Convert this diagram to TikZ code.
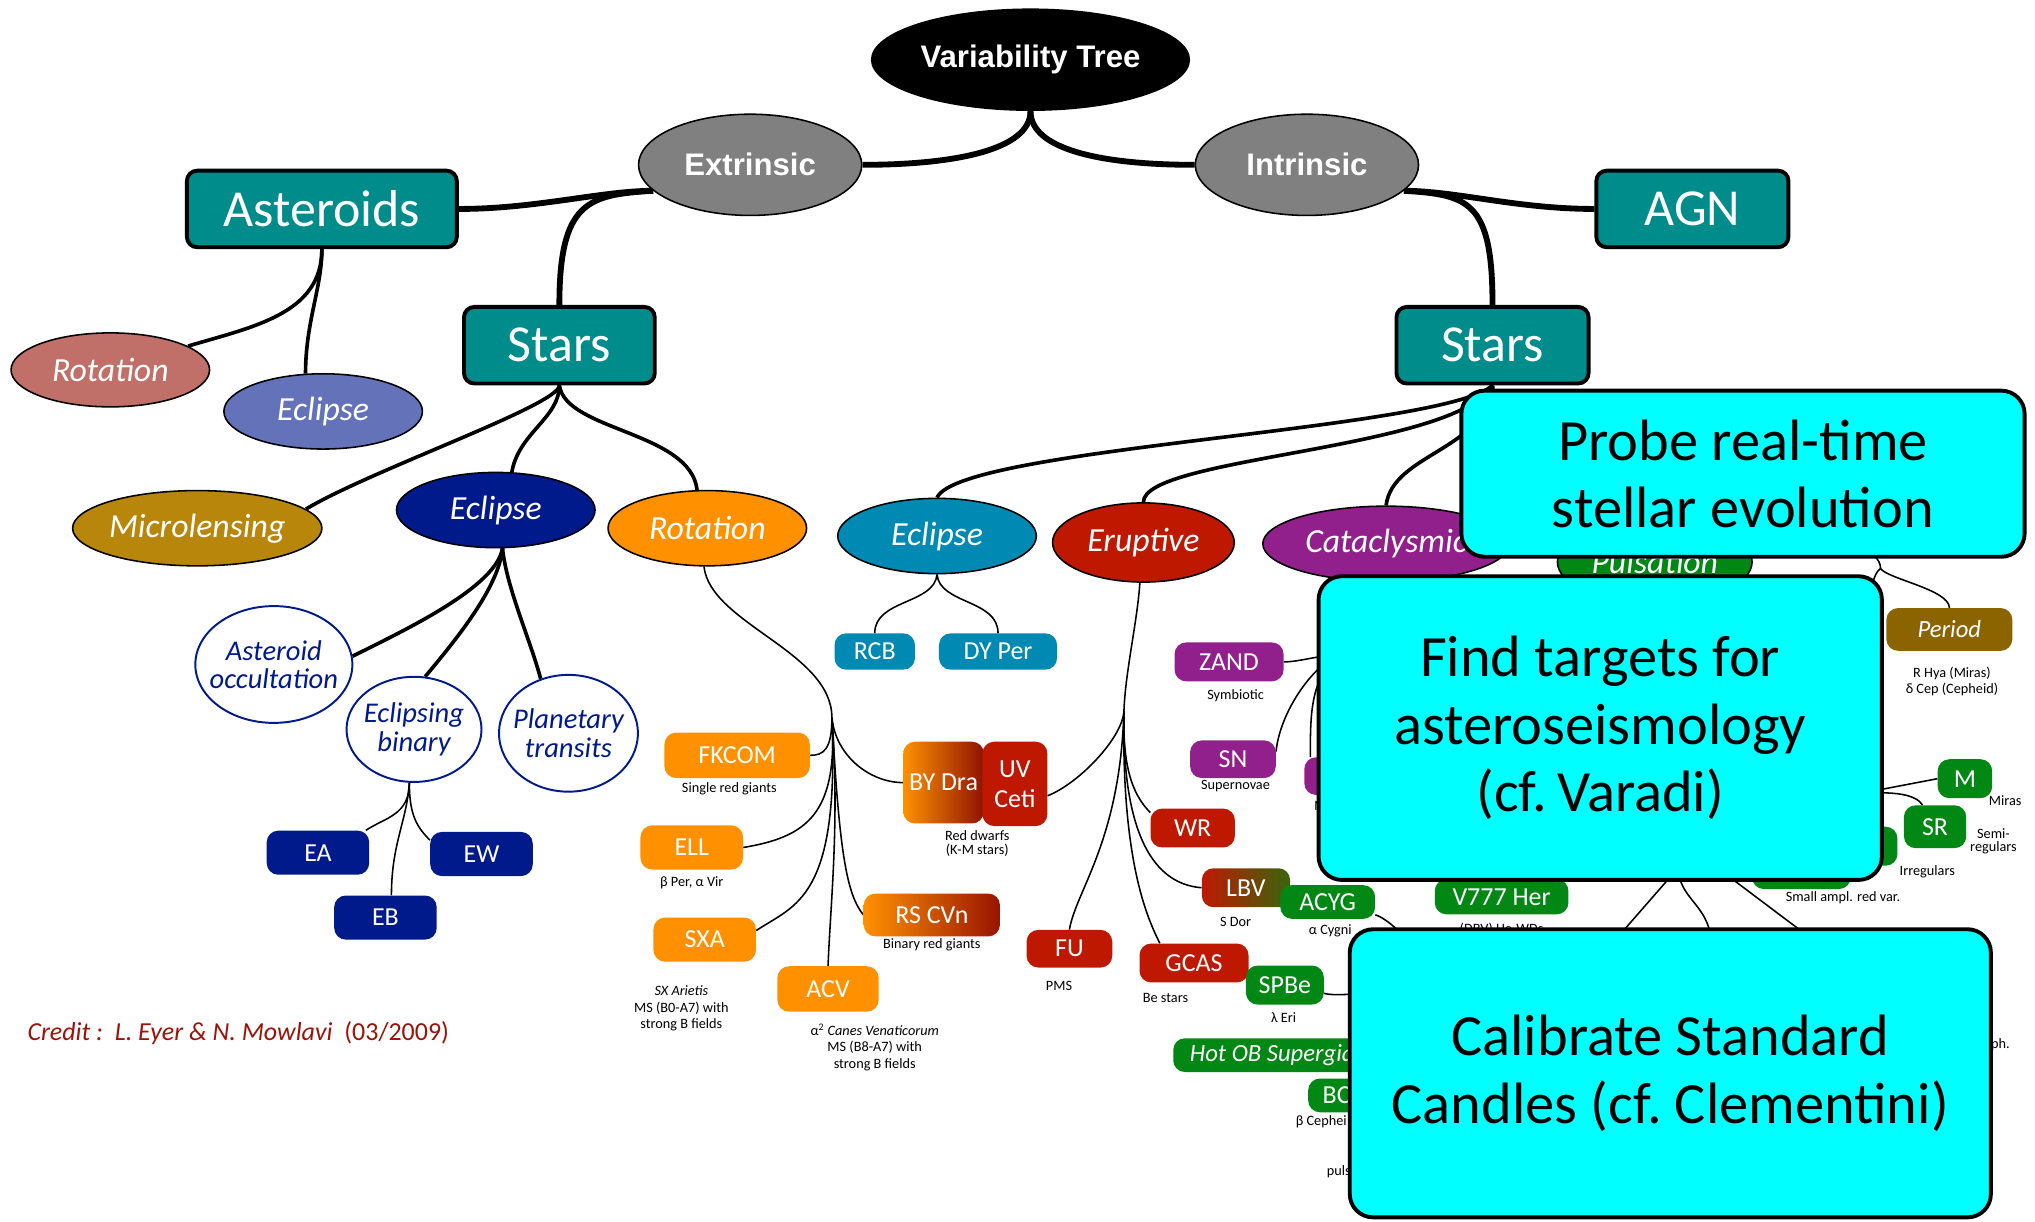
\documentclass[tikz,border=0pt]{standalone}
\usepackage{fontspec}
\setmainfont{Carlito}
\newfontfamily\headfont{Liberation Sans}
\usetikzlibrary{shapes.geometric,backgrounds}

\definecolor{tealbox}{RGB}{0,140,138}
\definecolor{groupgray}{RGB}{128,128,128}
\definecolor{rosec}{RGB}{192,112,104}
\definecolor{periwinkle}{RGB}{99,114,185}
\definecolor{goldc}{RGB}{184,134,11}
\definecolor{navyc}{RGB}{0,26,140}
\definecolor{orangec}{RGB}{255,145,0}
\definecolor{oceanc}{RGB}{0,137,178}
\definecolor{redc}{RGB}{190,25,0}
\definecolor{purplec}{RGB}{146,32,140}
\definecolor{greenc}{RGB}{0,135,20}
\definecolor{brownc}{RGB}{139,100,0}
\definecolor{creditc}{RGB}{155,20,10}
\definecolor{goalc}{RGB}{0,255,255}

\begin{document}
\begin{tikzpicture}[
    x=1pt, y=-1pt,
    trunk/.style     ={line width=4.5pt},
    limb/.style      ={line width=2.8pt},
    twig/.style      ={line width=1.2pt},
    rootnode/.style  ={ellipse, fill=black, text=white, inner sep=0pt,
                       minimum width=246pt, minimum height=79pt,
                       font=\headfont\bfseries\fontsize{24}{28}\selectfont},
    realm/.style     ={ellipse, draw=black, line width=1.2pt, fill=groupgray,
                       text=white, inner sep=0pt, minimum width=172pt,
                       minimum height=78pt,
                       font=\headfont\bfseries\fontsize{24}{28}\selectfont},
    catbox/.style    ={rectangle, rounded corners=8pt, draw=black, line width=3pt,
                       fill=tealbox, text=white, minimum height=59pt,
                       font=\fontsize{40}{44}\selectfont},
    kind/.style      ={ellipse, draw=black, line width=1.2pt, text=white,
                       inner sep=0pt, minimum width=153pt, minimum height=58pt,
                       font=\itshape\fontsize{26}{30}\selectfont},
    subellipse/.style={ellipse, draw=navyc, line width=1.5pt, fill=white,
                       text=navyc, align=center, inner xsep=-14pt, inner ysep=-6pt,
                       font=\itshape\fontsize{22}{22}\selectfont},
    tag/.style       ={rectangle, rounded corners=9pt, text=white, inner sep=0pt,
                       minimum height=29pt, font=\fontsize{20}{22}\selectfont},
    note/.style      ={align=center, font=\fontsize{11}{12.5}\selectfont},
    goal/.style      ={rectangle, rounded corners=18pt, draw=black, line width=3pt,
                       fill=goalc, align=center, inner sep=0pt,
                       font=\fontsize{45}{52}\selectfont},
]
\useasboundingbox (0,0) rectangle (1568,941);

% ----------------------------------------------------------------------
%  top of the tree
% ----------------------------------------------------------------------
\node[rootnode] (tree) at (794,46) {Variability Tree};
\node[realm] (extr) at (578,127) {Extrinsic};
\node[realm] (intr) at (1007,127) {Intrinsic};

\node[catbox, minimum width=208pt] (ast)    at (248,161)  {Asteroids};
\node[catbox, minimum width=147pt] (starsL) at (431,266)  {Stars};
\node[catbox, minimum width=148pt] (starsR) at (1150,266) {Stars};
\node[catbox, minimum width=148pt] (agn)    at (1304,161) {AGN};

% ----------------------------------------------------------------------
%  extrinsic branch
% ----------------------------------------------------------------------
\node[kind, fill=rosec, minimum height=57pt] (astrot) at (85,285) {Rotation};
\node[kind, fill=periwinkle] (astecl) at (249,317) {Eclipse};

\node[kind, fill=goldc, minimum width=180pt] (micro) at (152,407) {Microlensing};
\node[kind, fill=navyc]   (eclX) at (382,393) {Eclipse};
\node[kind, fill=orangec] (rotX) at (545,407) {Rotation};

\node[subellipse, minimum width=121pt, minimum height=90pt] (occ)  at (211,512) {Asteroid\\occultation};
\node[subellipse, minimum width=104pt, minimum height=81pt] (ebin) at (319,562) {Eclipsing\\binary};
\node[subellipse, minimum width=107pt, minimum height=90pt] (ptr)  at (438,565) {Planetary\\transits};

\node[tag, fill=navyc, minimum width=79pt, minimum height=34pt] (ea) at (245,657) {EA};
\node[tag, fill=navyc, minimum width=79pt, minimum height=34pt] (ew) at (371,658) {EW};
\node[tag, fill=navyc, minimum width=79pt, minimum height=34pt] (eb) at (297,707) {EB};

\node[text=creditc, anchor=west, inner sep=0pt, font=\fontsize{20}{24}\selectfont]
      (credit) at (21,796) {\itshape Credit :\ \ L.\ Eyer \& N.\ Mowlavi\ \ \upshape(03/2009)};

% --- rotation family ---
\node[tag, fill=orangec, minimum width=112pt, minimum height=35pt] (fkcom) at (568,582) {FKCOM};
\node[note] (fkcomnote) at (562,608) {Single red giants};
\node[tag, fill=orangec, minimum width=79pt, minimum height=34pt] (ell) at (533,653) {ELL};
\node[note] (ellnote) at (533,680) {β Per, α Vir};
\node[tag, fill=orangec, minimum width=79pt, minimum height=34pt] (sxa) at (543,724) {SXA};
\node[note] (sxanote) at (525,777) {\textit{SX Arietis}\\MS (B0-A7) with\\strong B fields};
\node[tag, fill=orangec, minimum width=78pt, minimum height=35pt] (acv) at (638,762) {ACV};
\node[note] (acvnote) at (674,807) {α\textsuperscript{2} \textit{Canes Venaticorum}\\MS (B8-A7) with\\strong B fields};
\node[tag, left color=orangec, right color=redc!80!black, minimum width=105pt,
      minimum height=33pt] (rscvn) at (718,705) {RS CVn};
\node[note] (rscvnnote) at (718,728) {Binary red giants};
\node[tag, left color=orangec, right color=redc!75!black, minimum width=62pt,
      minimum height=63pt] (bydra) at (727,603) {BY Dra};
\node[tag, fill=redc, align=center, minimum width=50pt, minimum height=65pt,
      font=\fontsize{20}{23}\selectfont] (uvceti) at (782,604) {UV\\Ceti};
\node[note, font=\fontsize{11}{10.5}\selectfont] (dwarfnote) at (753,650) {Red dwarfs\\(K-M stars)};

% ----------------------------------------------------------------------
%  intrinsic branch
% ----------------------------------------------------------------------
\node[kind, fill=oceanc] (eclY) at (722,413) {Eclipse};
\node[tag, fill=oceanc, minimum width=62pt, minimum height=28pt] (rcb)   at (674,502) {RCB};
\node[tag, fill=oceanc, minimum width=91pt, minimum height=28pt] (dyper) at (769,502) {DY Per};

% --- eruptive ---
\node[kind, fill=redc, minimum width=140pt, minimum height=61pt] (erupt) at (881,418) {Eruptive};
\node[tag, fill=redc, minimum width=65pt, minimum height=30pt] (wr) at (919,638) {WR};
\node[tag, left color=redc, right color=greenc!70!redc, minimum width=68pt,
      minimum height=30pt] (lbv) at (960,684) {LBV};
\node[note] (lbvnote) at (952,710) {S Dor};
\node[tag, fill=redc, minimum width=66pt, minimum height=29pt] (fu) at (824,731) {FU};
\node[note] (funote) at (816,760) {PMS};
\node[tag, fill=redc, minimum width=84pt, minimum height=30pt] (gcas) at (920,742) {GCAS};
\node[note] (gcasnote) at (898,769) {Be stars};

% --- cataclysmic ---
\node[kind, fill=purplec, minimum width=190pt] (catac) at (1068,419) {Cataclysmic};
\node[tag, fill=purplec, minimum width=84pt, minimum height=30pt] (zand) at (947,510) {ZAND};
\node[note] (zandnote) at (952,536) {Symbiotic};
\node[tag, fill=purplec, minimum width=66pt, minimum height=29pt] (sn) at (950,585) {SN};
\node[note] (snnote) at (952,606) {Supernovae};
\node[tag, fill=purplec, minimum width=82pt, minimum height=29pt] (novae) at (1046,598) {};
\node[note] (novaenote) at (1027,621) {Novae};

% --- pulsation ---
\node[kind, fill=greenc, minimum width=150pt, minimum height=64pt] (puls) at (1275,433) {Pulsation};
\node[tag, fill=brownc, minimum width=97pt, minimum height=33pt,
      font=\itshape\fontsize{19}{22}\selectfont] (period) at (1502,485) {Period};
\node[note] (periodnote) at (1504,525) {R Hya (Miras)\\δ Cep (Cepheid)};
\node[tag, fill=greenc, minimum width=42pt, minimum height=30pt] (mira) at (1514,600) {M};
\node[note] (miranote) at (1545,617) {Miras};
\node[tag, fill=greenc, minimum width=48pt, minimum height=33pt] (semi) at (1491,637) {SR};
\node[note, font=\fontsize{11}{10}\selectfont] (seminote) at (1536,648) {Semi-\\regulars};
\node[tag, fill=greenc, minimum width=84pt, minimum height=30pt] (irreg) at (1420,652) {};
\node[note] (irregnote) at (1485,672) {Irregulars};
\node[tag, fill=greenc, minimum width=76pt, minimum height=30pt] (small) at (1388,670) {};
\node[note] (smallnote) at (1420,692) {Small ampl. red var.};
\node[tag, fill=greenc, minimum width=73pt, minimum height=26pt] (acyg) at (1023,695) {ACYG};
\node[note] (acygnote) at (1025,717) {α Cygni};
\node[tag, fill=greenc, minimum width=103pt, minimum height=27pt] (v777) at (1157,691) {V777 Her};
\node[note] (v777note) at (1157,716) {(DBV) He-WDs};
\node[tag, fill=greenc, minimum width=60pt, minimum height=30pt] (spbe) at (990,759) {SPBe};
\node[note] (spbenote) at (989,784) {λ Eri};
\node[tag, fill=greenc, minimum width=176pt, minimum height=26pt,
      font=\itshape\fontsize{19}{22}\selectfont] (hotob) at (992,813) {Hot OB Supergiants};
\node[tag, fill=greenc, minimum width=64pt, minimum height=26pt] (bcep) at (1040,844) {BCEP};
\node[note] (bcepnote) at (1018,864) {β Cephei};
\node[note, anchor=east, inner sep=0pt] (pulsnote) at (1041,903) {puls};
\node[note, anchor=west, inner sep=0pt] (phnote) at (1534,805) {ph.};

% ----------------------------------------------------------------------
%  connectors
% ----------------------------------------------------------------------
\begin{scope}[on background layer]
  \fill[white] (0,0) rectangle (1568,941);

  % top level
  \draw[trunk] (tree.south) .. controls +(0,30) and +(70,0) .. (extr.east);
  \draw[trunk] (tree.south) .. controls +(0,30) and +(-70,0) .. (intr.west);
  \draw[trunk] (extr.195) .. controls +(-40,0) and +(60,0) .. (ast.east);
  \draw[trunk] (extr.195) .. controls +(-50,3) and +(0,-80) .. (starsL.north);
  \draw[trunk] (intr.345) .. controls +(40,0) and +(-60,0) .. (agn.west);
  \draw[trunk] (intr.345) .. controls +(50,3) and +(0,-80) .. (starsR.north);

  % asteroids
  \draw[limb] (ast.south) .. controls +(0,50) and +(50,-15) .. (astrot.17);
  \draw[limb] (ast.south) .. controls +(0,30) and +(0,-40) .. (astecl.115);

  % extrinsic stars
  \draw[limb] (starsL.south) .. controls +(0,15) and +(50,-30) .. (micro.10);
  \draw[limb] (starsL.south) .. controls +(0,25) and +(5,-30) .. (eclX.67);
  \draw[limb] (starsL.south) .. controls +(5,35) and +(-5,-45) .. (rotX.105);

  \draw[limb] (eclX.280) .. controls +(-5,30) and +(40,-20) .. (occ.6);
  \draw[limb] (eclX.280) .. controls +(-3,30) and +(25,-30) .. (ebin.78);
  \draw[limb] (eclX.280) .. controls +(3,30) and +(-8,-30) .. (ptr.117);
  \draw[twig] (ebin.265) .. controls +(0,25) and +(15,-10) .. (ea.25);
  \draw[twig] (ebin.265) .. controls +(0,25) and +(-10,-10) .. (ew.165);
  \draw[twig] (ebin.265) .. controls +(-2,30) and +(0,-40) .. (eb.75);

  \coordinate (rotfork) at (641,553);
  \draw[twig] (rotX.265) .. controls +(5,44) and +(0,-51) .. (rotfork);
  \draw[twig] (rotfork) .. controls +(3,30) and +(-25,0) .. (bydra.west);
  \draw[twig] (rotfork) .. controls +(0,25) and +(10,0) .. (fkcom.east);
  \draw[twig] (rotfork) .. controls +(5,75) and +(48,-8) .. (ell.east);
  \draw[twig] (rotfork) .. controls +(6,140) and +(30,-20) .. (sxa.10);
  \draw[twig] (rotfork) .. controls +(6,80) and +(2,-50) .. (acv.north);
  \draw[twig] (rotfork) .. controls +(6,110) and +(-12,-15) .. (rscvn.west);

  % intrinsic stars
  \draw[limb] (starsR.south) .. controls +(-40,35) and +(18,-39) .. (eclY.north);
  \draw[limb] (starsR.south) .. controls +(-30,50) and +(0,-35) .. (erupt.north);
  \draw[limb] (starsR.south) .. controls +(-5,50) and +(5,-40) .. (catac.north);
  \draw[limb] (starsR.south) .. controls +(0,40) and +(0,-40) .. (puls.north);

  \draw[twig] (eclY.south) .. controls +(-2,23) and +(0,-26) .. (rcb.north);
  \draw[twig] (eclY.south) .. controls +(2,23) and +(0,-26) .. (dyper.north);

  \coordinate (erufork) at (866,548);
  \draw[twig] (erupt.265) .. controls +(-2,30) and +(1,-30) .. (erufork);
  \draw[twig] (erufork) .. controls +(-1,20) and +(25,-10) .. (uvceti.-20);
  \draw[twig] (erufork) .. controls +(-1,40) and +(-15,-15) .. (wr.160);
  \draw[twig] (erufork) .. controls +(-2,115) and +(-25,-2) .. (lbv.west);
  \draw[twig] (erufork) .. controls +(-3,100) and +(5,-30) .. (fu.north);
  \draw[twig] (erufork) .. controls +(-2,115) and +(-10,-20) .. (gcas.150);

  \coordinate (catfork) at (1030,505);
  \draw[twig] (catac.south) -- (catfork);
  \draw[twig] (catfork) .. controls +(-15,0) and +(12,0) .. (zand.east);
  \draw[twig] (catfork) .. controls +(-20,10) and +(3,-30) .. (sn.10);
  \draw[twig] (catfork) .. controls +(-20,20) and +(0,-35) .. (novae.158);

  \coordinate (pulsfork) at (1449,438);
  \coordinate (lpvfork) at (1430,612);
  \draw[twig] (puls.15) .. controls +(80,-5) and +(0,-15) .. (pulsfork);
  \draw[twig] (pulsfork) .. controls +(5,8) and +(0,-14) .. (period.north);
  \draw[twig] (pulsfork) .. controls +(-12,6) and +(0,-80) .. (lpvfork);
  \draw[twig] (lpvfork) -- (mira.west);
  \draw[twig] (lpvfork) .. controls +(30,-3) and +(-5,-8) .. (semi.120);
  \draw[twig] (lpvfork) -- (irreg.north);
  \draw[twig] (lpvfork) -- (small.north);

  \coordinate (findA) at (1305,655);
  \coordinate (findB) at (1292,660);
  \coordinate (findC) at (1325,670);
  \coordinate (calA) at (1230,741);
  \coordinate (calB) at (1320,740);
  \coordinate (calC) at (1414,737);
  \draw[twig] (findA) -- (calA);
  \draw[twig] (findB) .. controls +(0,40) and +(0,-50) .. (calB);
  \draw[twig] (findC) -- (calC);

  \coordinate (hotfork) at (1110,760);
  \draw[twig] (acyg.-15) .. controls +(15,5) and +(-10,-20) .. (hotfork);
  \draw[twig] (spbe.-12) .. controls +(15,4) and +(-30,0) .. (hotfork);
\end{scope}

% ----------------------------------------------------------------------
%  science goals laid over the tree
% ----------------------------------------------------------------------
\node[goal, minimum width=434pt, minimum height=128pt] (probe) at (1343,365)
      {Probe real-time\\stellar evolution};
\node[goal, minimum width=434pt, minimum height=234pt] (find) at (1233,561)
      {Find targets for\\asteroseismology\\(cf.\,Varadi)};
\node[goal, minimum width=494pt, minimum height=222pt] (calib) at (1287,827)
      {Calibrate Standard\\Candles (cf.\ Clementini)};

\end{tikzpicture}
\end{document}
